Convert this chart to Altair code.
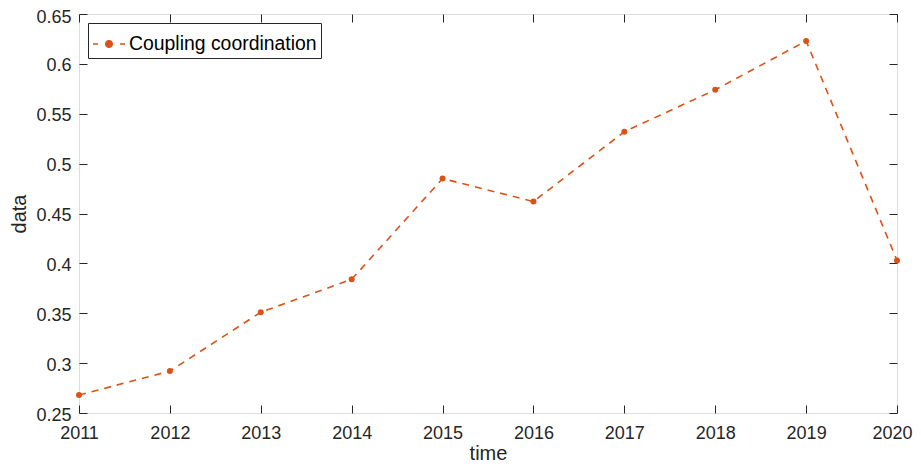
import altair as alt
import pandas as pd

years = [2011, 2012, 2013, 2014, 2015, 2016, 2017, 2018, 2019, 2020]
values = [0.268, 0.292, 0.351, 0.384, 0.485, 0.462, 0.532, 0.574, 0.623, 0.403]
series_name = "Coupling coordination"
x_ticks = [2011, 2012, 2013, 2014, 2015, 2016, 2017, 2018, 2019, 2020]
y_ticks = [0.25, 0.3, 0.35, 0.4, 0.45, 0.5, 0.55, 0.6, 0.65]

df = pd.DataFrame({"time": years, "data": values, "series": [series_name] * len(years)})

ORANGE = "#D95319"
TXT = "#262626"
FONT = "Liberation Sans"

xs = alt.Scale(domain=[2011, 2020], nice=False, zero=False)
ys = alt.Scale(domain=[0.25, 0.65], nice=False, zero=False)

# main axes with labels and titles
x_main = alt.Axis(orient="bottom", values=x_ticks, format="d", ticks=False, domain=False, grid=False,
                  labelFlush=False, labelOverlap=False, labelPadding=11, labelFontSize=18,
                  labelOffset={"condition": {"test": "datum.value == 2020", "value": -5}, "value": 0},
                  labelFont=FONT, labelColor=TXT, title="time", titleFont=FONT, titleFontSize=20,
                  titleFontWeight="normal", titleColor=TXT, titleY=46, titleBaseline="alphabetic")
y_main = alt.Axis(orient="left", values=y_ticks, format="~g", ticks=False, domain=False, grid=False,
                  labelFlush=False, labelOverlap=False, labelPadding=8, labelFontSize=18,
                  labelOffset={"condition": {"test": "datum.value >= 0.649", "value": 3}, "value": 2},
                  labelFont=FONT, labelColor=TXT, title="data", titleFont=FONT, titleFontSize=20,
                  titleFontWeight="normal", titleColor=TXT, titleX=-54, titleBaseline="alphabetic",
                  titleAngle=270)


def tick_axis(orient, vals):
    return alt.Axis(orient=orient, values=vals, labels=False, domain=False, grid=False, ticks=True,
                    tickSize=8, tickColor=TXT, tickWidth=1, offset=-8, title=None)


line = alt.Chart(df).mark_line(strokeDash=[7, 6], strokeWidth=1.6).encode(
    x=alt.X("time:Q", scale=xs, axis=x_main),
    y=alt.Y("data:Q", scale=ys, axis=y_main),
    color=alt.Color("series:N", scale=alt.Scale(range=[ORANGE]),
                    legend=alt.Legend(
                        title=None, orient="top-left", offset=9, padding=4,
                        strokeColor=TXT, fillColor="white", cornerRadius=0,
                        labelFont=FONT, labelFontSize=19.4, labelColor="#000000", labelOffset=3,
                        labelLimit=400,
                        symbolType="M-1,0H-0.68M0.68,0H1M-0.2,0A0.2,0.2,0,1,0,0.2,0A0.2,0.2,0,1,0,-0.2,0Z",
                        symbolSize=1024, symbolStrokeWidth=1.6, symbolFillColor=ORANGE,
                        symbolStrokeColor=ORANGE, symbolDash=[1, 0])),
)

pts = alt.Chart(df).mark_circle(size=36, color=ORANGE, opacity=1).encode(
    x=alt.X("time:Q", scale=xs, axis=tick_axis("bottom", x_ticks)),
    y=alt.Y("data:Q", scale=ys, axis=tick_axis("left", y_ticks)),
)

ghost = alt.Chart(df).mark_point(opacity=0).encode(
    x=alt.X("time:Q", scale=xs, axis=tick_axis("top", x_ticks)),
    y=alt.Y("data:Q", scale=ys, axis=tick_axis("right", y_ticks)),
)

chart = alt.layer(line, pts, ghost).resolve_axis(x="independent", y="independent").properties(
    width=818, height=399,
    autosize=alt.AutoSizeParams(type="none"),
    padding={"left": 71, "top": 6, "right": 16, "bottom": 50},
).configure_view(stroke=TXT, strokeWidth=1).configure(background="white")

chart.save("out.html", embed_options={"renderer": "svg", "actions": False})
